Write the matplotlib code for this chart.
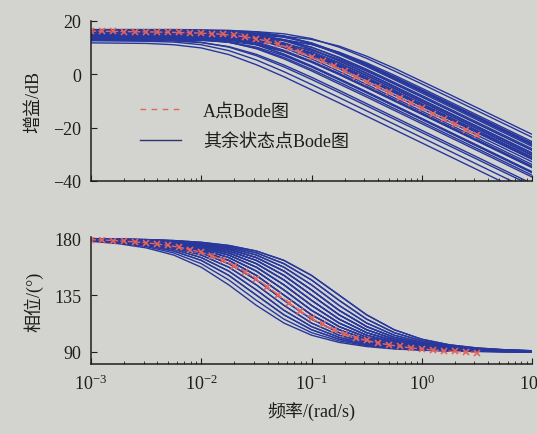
import numpy as np
import matplotlib.pyplot as plt
from matplotlib.lines import Line2D

plt.rcParams['font.family'] = ['Liberation Serif', 'Noto Sans CJK SC']
plt.rcParams['mathtext.fontset'] = 'stix'

# DATA SECTION------------------------------------------------------------------
# frequency samples (rad/s)
w_blue = np.logspace(-3, 1, 17)      # quarter-decade samples for other states
w_red = np.logspace(-3, 0.5, 36)     # denser samples for point A

# point A Bode (gain dB / phase deg)
red_gain = [16.20, 16.15, 16.09, 16.04, 15.98, 15.92, 15.86, 15.78, 15.69, 15.58,
            15.44, 15.24, 14.97, 14.59, 14.06, 13.34, 12.41, 11.25, 9.87, 8.31,
            6.60, 4.82, 2.97, 1.07, -0.87, -2.83, -4.80, -6.79, -8.78, -10.77,
            -12.77, -14.76, -16.76, -18.76, -20.76, -22.76]
red_phase = [178.9, 178.6, 178.2, 177.7, 177.1, 176.4, 175.5, 174.3, 172.9, 171.0,
             168.8, 166.0, 162.5, 158.4, 153.5, 147.9, 141.7, 135.1, 128.6, 122.4,
             116.7, 111.8, 107.6, 104.2, 101.3, 99.1, 97.2, 95.7, 94.4, 93.3,
             92.4, 91.6, 91.0, 90.4, 90.0, 89.6]

# remaining operating points: gain curves (dB)
blue_gain = [
    [11.8, 11.7, 11.6, 11.1, 9.9, 7.4, 3.6, -0.9, -5.8, -10.7, -15.7, -20.7, -25.7, -30.7, -35.7, -40.7, -45.7],
    [12.6, 12.5, 12.4, 12.1, 11.1, 8.9, 5.4, 1.0, -3.8, -8.7, -13.7, -18.7, -23.7, -28.7, -33.7, -38.7, -43.7],
    [13.2, 13.2, 13.1, 12.8, 12.0, 10.2, 7.0, 2.8, -1.9, -6.8, -11.8, -16.8, -21.8, -26.8, -31.8, -36.8, -41.8],
    [12.8, 12.8, 12.7, 12.5, 11.9, 10.4, 7.5, 3.5, -1.1, -6.0, -11.0, -16.0, -21.0, -26.0, -31.0, -36.0, -41.0],
    [14.0, 14.0, 13.9, 13.8, 13.3, 12.1, 9.6, 5.8, 1.3, -3.6, -8.5, -13.5, -18.5, -23.5, -28.5, -33.5, -38.5],
    [13.5, 13.5, 13.4, 13.3, 13.0, 12.0, 9.8, 6.3, 1.9, -2.9, -7.8, -12.8, -17.8, -22.8, -27.8, -32.8, -37.8],
    [15.2, 15.2, 15.2, 15.1, 14.8, 14.0, 12.2, 9.0, 4.8, 0.1, -4.8, -9.8, -14.8, -19.8, -24.8, -29.8, -34.8],
    [14.2, 14.2, 14.2, 14.1, 13.9, 13.3, 11.8, 8.9, 4.9, 0.3, -4.6, -9.6, -14.6, -19.6, -24.6, -29.6, -34.6],
    [16.0, 16.0, 16.0, 15.9, 15.7, 15.1, 13.6, 10.7, 6.7, 2.1, -2.8, -7.8, -12.8, -17.8, -22.8, -27.8, -32.8],
    [13.0, 13.0, 13.0, 12.9, 12.8, 12.3, 11.1, 8.6, 4.8, 0.3, -4.6, -9.5, -14.5, -19.5, -24.5, -29.5, -34.5],
    [15.0, 15.0, 15.0, 14.9, 14.8, 14.5, 13.5, 11.3, 7.8, 3.4, -1.4, -6.3, -11.3, -16.3, -21.3, -26.3, -31.3],
    [16.6, 16.6, 16.6, 16.5, 16.4, 16.1, 15.1, 12.9, 9.4, 5.0, 0.3, -4.7, -9.7, -14.7, -19.7, -24.7, -29.7],
    [14.0, 14.0, 14.0, 14.0, 13.9, 13.6, 12.8, 11.0, 7.8, 3.6, -1.1, -6.0, -11.0, -16.0, -21.0, -26.0, -31.0],
    [15.6, 15.6, 15.6, 15.6, 15.5, 15.2, 14.4, 12.6, 9.4, 5.2, 0.5, -4.4, -9.4, -14.4, -19.4, -24.4, -29.4],
    [16.8, 16.8, 16.8, 16.8, 16.7, 16.5, 15.9, 14.4, 11.5, 7.5, 2.9, -2.0, -7.0, -12.0, -17.0, -22.0, -27.0],
    [13.4, 13.4, 13.4, 13.4, 13.3, 13.1, 12.5, 11.0, 8.1, 4.1, -0.5, -5.4, -10.4, -15.4, -20.4, -25.4, -30.4],
    [14.6, 14.6, 14.6, 14.6, 14.5, 14.4, 13.9, 12.7, 10.2, 6.4, 1.9, -3.0, -7.9, -12.9, -17.9, -22.9, -27.9],
    [16.2, 16.2, 16.2, 16.2, 16.1, 16.0, 15.5, 14.3, 11.8, 8.0, 3.5, -1.4, -6.3, -11.3, -16.3, -21.3, -26.3],
    [12.8, 12.8, 12.8, 12.8, 12.7, 12.6, 12.3, 11.3, 9.1, 5.6, 1.2, -3.6, -8.5, -13.5, -18.5, -23.5, -28.5],
    [15.4, 15.4, 15.4, 15.4, 15.3, 15.2, 14.9, 13.9, 11.7, 8.2, 3.8, -1.0, -5.9, -10.9, -15.9, -20.9, -25.9],
    [14.2, 14.2, 14.2, 14.2, 14.2, 14.1, 13.8, 13.0, 11.2, 8.0, 3.8, -0.9, -5.8, -10.8, -15.8, -20.8, -25.8],
    [16.4, 16.4, 16.4, 16.4, 16.4, 16.3, 16.0, 15.2, 13.4, 10.2, 6.0, 1.3, -3.6, -8.6, -13.6, -18.6, -23.6],
    [13.6, 13.6, 13.6, 13.6, 13.6, 13.5, 13.3, 12.7, 11.2, 8.3, 4.3, -0.3, -5.2, -10.2, -15.2, -20.2, -25.2],
    [15.0, 15.0, 15.0, 15.0, 15.0, 14.9, 14.8, 14.3, 13.1, 10.6, 6.8, 2.3, -2.6, -7.5, -12.5, -17.5, -22.5],
    [14.8, 14.8, 14.7, 14.6, 14.3, 13.3, 11.1, 7.6, 3.2, -1.6, -6.5, -11.5, -16.5, -21.5, -26.5, -31.5, -36.5],
    [15.8, 15.8, 15.8, 15.7, 15.6, 15.1, 13.9, 11.4, 7.6, 3.1, -1.8, -6.7, -11.7, -16.7, -21.7, -26.7, -31.7],
    [14.4, 14.4, 14.4, 14.3, 14.2, 13.9, 12.9, 10.7, 7.2, 2.8, -2.0, -6.9, -11.9, -16.9, -21.9, -26.9, -31.9],
    [16.2, 16.2, 16.2, 16.1, 15.8, 15.0, 13.2, 10.0, 5.8, 1.1, -3.8, -8.8, -13.8, -18.8, -23.8, -28.8, -33.8],
    [13.8, 13.8, 13.8, 13.7, 13.5, 12.9, 11.4, 8.5, 4.5, -0.1, -5.0, -10.0, -15.0, -20.0, -25.0, -30.0, -35.0],
    [15.4, 15.4, 15.4, 15.4, 15.3, 15.1, 14.5, 13.0, 10.1, 6.1, 1.5, -3.4, -8.4, -13.4, -18.4, -23.4, -28.4],
    [14.8, 14.8, 14.8, 14.8, 14.7, 14.4, 13.6, 11.8, 8.6, 4.4, -0.3, -5.2, -10.2, -15.2, -20.2, -25.2, -30.2],
    [16.0, 16.0, 16.0, 16.0, 15.9, 15.8, 15.3, 14.1, 11.6, 7.8, 3.3, -1.6, -6.5, -11.5, -16.5, -21.5, -26.5],
    [13.2, 13.2, 13.2, 13.1, 12.8, 12.0, 10.2, 7.0, 2.8, -1.9, -6.8, -11.8, -16.8, -21.8, -26.8, -31.8, -36.8],
    [15.6, 15.6, 15.5, 15.4, 14.9, 13.7, 11.2, 7.4, 2.9, -2.0, -6.9, -11.9, -16.9, -21.9, -26.9, -31.9, -36.9],
]

# remaining operating points: phase curves (deg)
blue_phase = [
    [177.6, 175.7, 172.4, 166.7, 157.1, 143.1, 126.9, 112.9, 103.3, 97.6, 94.3, 92.4, 91.4, 90.8, 90.4, 90.2, 90.1],
    [177.9, 176.3, 173.4, 168.4, 159.9, 147.0, 130.9, 116.0, 105.3, 98.8, 95.0, 92.8, 91.6, 90.9, 90.5, 90.3, 90.2],
    [178.2, 176.8, 174.3, 169.9, 162.5, 150.6, 135.0, 119.4, 107.6, 100.1, 95.7, 93.2, 91.8, 91.0, 90.6, 90.3, 90.2],
    [178.4, 177.2, 175.1, 171.3, 164.7, 154.0, 139.1, 123.0, 110.1, 101.6, 96.6, 93.7, 92.1, 91.2, 90.7, 90.4, 90.2],
    [178.6, 177.6, 175.7, 172.4, 166.7, 157.1, 143.1, 126.9, 112.9, 103.3, 97.6, 94.3, 92.4, 91.4, 90.8, 90.4, 90.2],
    [178.8, 177.9, 176.3, 173.4, 168.4, 159.9, 147.0, 130.9, 116.0, 105.3, 98.8, 95.0, 92.8, 91.6, 90.9, 90.5, 90.3],
    [179.0, 178.2, 176.8, 174.3, 169.9, 162.5, 150.6, 135.0, 119.4, 107.6, 100.1, 95.7, 93.2, 91.8, 91.0, 90.6, 90.3],
    [179.1, 178.4, 177.2, 175.1, 171.3, 164.7, 154.0, 139.1, 123.0, 110.1, 101.6, 96.6, 93.7, 92.1, 91.2, 90.7, 90.4],
    [178.8, 177.9, 176.3, 173.4, 168.4, 159.9, 147.0, 130.9, 116.0, 105.3, 98.8, 95.0, 92.8, 91.6, 90.9, 90.5, 90.3],
    [179.2, 178.6, 177.6, 175.7, 172.4, 166.7, 157.1, 143.1, 126.9, 112.9, 103.3, 97.6, 94.3, 92.4, 91.4, 90.8, 90.4],
    [179.1, 178.4, 177.2, 175.1, 171.3, 164.7, 154.0, 139.1, 123.0, 110.1, 101.6, 96.6, 93.7, 92.1, 91.2, 90.7, 90.4],
    [179.3, 178.8, 177.9, 176.3, 173.4, 168.4, 159.9, 147.0, 130.9, 116.0, 105.3, 98.8, 95.0, 92.8, 91.6, 90.9, 90.5],
    [179.4, 179.0, 178.2, 176.8, 174.3, 169.9, 162.5, 150.6, 135.0, 119.4, 107.6, 100.1, 95.7, 93.2, 91.8, 91.0, 90.6],
    [179.2, 178.6, 177.6, 175.7, 172.4, 166.7, 157.1, 143.1, 126.9, 112.9, 103.3, 97.6, 94.3, 92.4, 91.4, 90.8, 90.4],
    [179.5, 179.1, 178.4, 177.2, 175.1, 171.3, 164.7, 154.0, 139.1, 123.0, 110.1, 101.6, 96.6, 93.7, 92.1, 91.2, 90.7],
    [179.4, 179.0, 178.2, 176.8, 174.3, 169.9, 162.5, 150.6, 135.0, 119.4, 107.6, 100.1, 95.7, 93.2, 91.8, 91.0, 90.6],
    [179.6, 179.2, 178.6, 177.6, 175.7, 172.4, 166.7, 157.1, 143.1, 126.9, 112.9, 103.3, 97.6, 94.3, 92.4, 91.4, 90.8],
    [179.3, 178.8, 177.9, 176.3, 173.4, 168.4, 159.9, 147.0, 130.9, 116.0, 105.3, 98.8, 95.0, 92.8, 91.6, 90.9, 90.5],
    [179.6, 179.3, 178.8, 177.9, 176.3, 173.4, 168.4, 159.9, 147.0, 130.9, 116.0, 105.3, 98.8, 95.0, 92.8, 91.6, 90.9],
    [179.5, 179.1, 178.4, 177.2, 175.1, 171.3, 164.7, 154.0, 139.1, 123.0, 110.1, 101.6, 96.6, 93.7, 92.1, 91.2, 90.7],
    [179.7, 179.4, 179.0, 178.2, 176.8, 174.3, 169.9, 162.5, 150.6, 135.0, 119.4, 107.6, 100.1, 95.7, 93.2, 91.8, 91.0],
    [179.6, 179.2, 178.6, 177.6, 175.7, 172.4, 166.7, 157.1, 143.1, 126.9, 112.9, 103.3, 97.6, 94.3, 92.4, 91.4, 90.8],
    [179.6, 179.3, 178.8, 177.9, 176.3, 173.4, 168.4, 159.9, 147.0, 130.9, 116.0, 105.3, 98.8, 95.0, 92.8, 91.6, 90.9],
    [179.7, 179.4, 179.0, 178.2, 176.8, 174.3, 169.9, 162.5, 150.6, 135.0, 119.4, 107.6, 100.1, 95.7, 93.2, 91.8, 91.0],
    [178.6, 177.6, 175.7, 172.4, 166.7, 157.1, 143.1, 126.9, 112.9, 103.3, 97.6, 94.3, 92.4, 91.4, 90.8, 90.4, 90.2],
    [179.0, 178.2, 176.8, 174.3, 169.9, 162.5, 150.6, 135.0, 119.4, 107.6, 100.1, 95.7, 93.2, 91.8, 91.0, 90.6, 90.3],
    [179.2, 178.6, 177.6, 175.7, 172.4, 166.7, 157.1, 143.1, 126.9, 112.9, 103.3, 97.6, 94.3, 92.4, 91.4, 90.8, 90.4],
    [178.4, 177.2, 175.1, 171.3, 164.7, 154.0, 139.1, 123.0, 110.1, 101.6, 96.6, 93.7, 92.1, 91.2, 90.7, 90.4, 90.2],
    [179.1, 178.4, 177.2, 175.1, 171.3, 164.7, 154.0, 139.1, 123.0, 110.1, 101.6, 96.6, 93.7, 92.1, 91.2, 90.7, 90.4],
    [179.3, 178.8, 177.9, 176.3, 173.4, 168.4, 159.9, 147.0, 130.9, 116.0, 105.3, 98.8, 95.0, 92.8, 91.6, 90.9, 90.5],
    [179.4, 179.0, 178.2, 176.8, 174.3, 169.9, 162.5, 150.6, 135.0, 119.4, 107.6, 100.1, 95.7, 93.2, 91.8, 91.0, 90.6],
    [179.5, 179.1, 178.4, 177.2, 175.1, 171.3, 164.7, 154.0, 139.1, 123.0, 110.1, 101.6, 96.6, 93.7, 92.1, 91.2, 90.7],
    [179.0, 178.2, 176.8, 174.3, 169.9, 162.5, 150.6, 135.0, 119.4, 107.6, 100.1, 95.7, 93.2, 91.8, 91.0, 90.6, 90.3],
    [178.2, 176.8, 174.3, 169.9, 162.5, 150.6, 135.0, 119.4, 107.6, 100.1, 95.7, 93.2, 91.8, 91.0, 90.6, 90.3, 90.2],
]

legend_labels = ['A点Bode图', '其余状态点Bode图']
gain_ticks = [-40, -20, 0, 20]
phase_ticks = [90, 135, 180]

# STYLE SECTION-----------------------------------------------------------------
bg = '#d3d4cf'
blue = '#27379c'
red = '#e2645c'
ink = '#1e1e1e'
fs = 13

fig = plt.figure(figsize=(5.37, 4.35), dpi=100, facecolor=bg)
W = 537.0; H = 435.0
ax1 = fig.add_axes([91/W, 1-182/H, 441/W, 160/H])
ax2 = fig.add_axes([91/W, 1-365/H, 441/W, 127/H])

for g in blue_gain:
    ax1.semilogx(w_blue, g, color=blue, lw=1.0)
ax1.semilogx(w_red, red_gain, ls='--', color=red, lw=1.0, marker='x', ms=5, mew=1.2)

for p in blue_phase:
    ax2.semilogx(w_blue, p, color=blue, lw=1.0)
ax2.semilogx(w_red, red_phase, ls='--', color=red, lw=1.0, marker='x', ms=5, mew=1.2)

for ax in (ax1, ax2):
    ax.set_facecolor('none')
    ax.set_xlim(1e-3, 10)
    for s in ('top', 'right'):
        ax.spines[s].set_visible(False)
    for s in ('left', 'bottom'):
        ax.spines[s].set_color(ink)
        ax.spines[s].set_linewidth(1.1)
    ax.tick_params(which='both', direction='in', top=False, right=False,
                   colors=ink, labelsize=fs, pad=7)
    ax.tick_params(which='major', length=4)
    ax.tick_params(which='minor', length=2.5)

ax1.set_ylim(-40, 20)
ax1.set_yticks(gain_ticks)
ax1.tick_params(axis='x', which='both', labelbottom=False)
ax1.set_ylabel('增益/dB', fontsize=fs, color=ink, labelpad=8)

ax2.set_ylim(80.5, 181)
ax2.set_yticks(phase_ticks)
ax2.set_ylabel('相位/(°)', fontsize=fs, color=ink, labelpad=8)
ax2.set_xlabel('频率/(rad/s)', fontsize=fs, color=ink, labelpad=6)

handles = [Line2D([], [], color=red, ls='--', lw=1.0, dashes=(4, 4)),
           Line2D([], [], color='#2d3570', lw=1.0)]
ax1.legend(handles, legend_labels, loc='center left', bbox_to_anchor=(0.11, 0.34),
           frameon=False, fontsize=fs, handlelength=2.3, handletextpad=1.2,
           labelspacing=0.75, borderpad=0, borderaxespad=0, labelcolor=ink)

fig.savefig('out.png', dpi=100, facecolor=bg)
